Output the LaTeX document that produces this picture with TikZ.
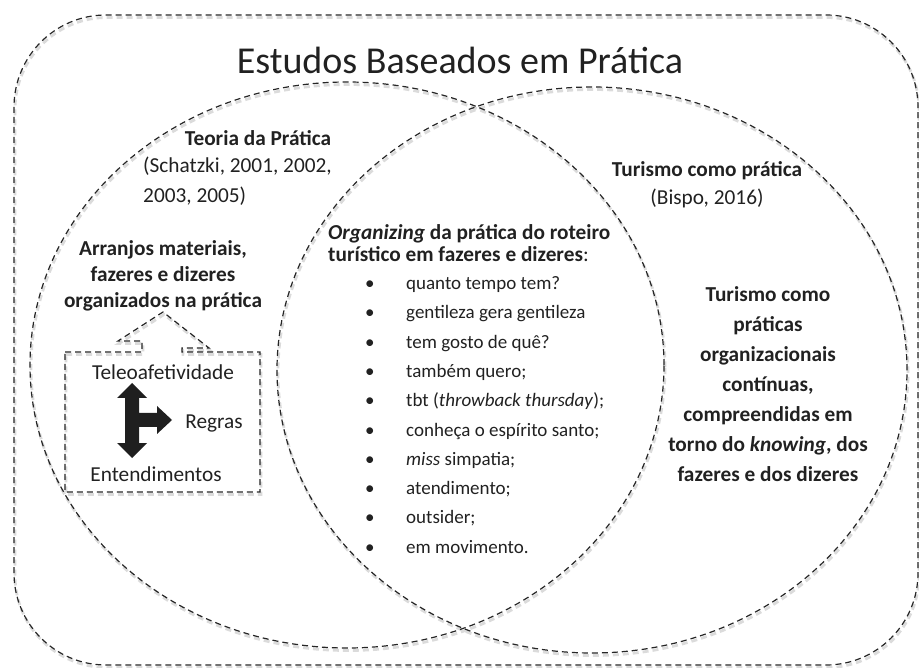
\documentclass[tikz,border=0pt]{standalone}
\usepackage{fontspec}
\setmainfont{Carlito}
\newcommand\fsz{\fontsize{21.3}{26}\selectfont}
\newcommand\fsl{\fontsize{19}{29.3}\selectfont}
\begin{document}
\begin{tikzpicture}[x=1pt,y=-1pt,
  dline/.style={draw=black!85, line width=1.2pt, dash pattern=on 6pt off 4pt},
  sline/.style={draw=black!14, line width=2.8pt, dash pattern=on 6pt off 4pt},
  txt/.style={text=black!87, inner sep=0pt, font=\fsz},
  btxt/.style={txt, font=\fsz\bfseries},
  arrowfill/.style={fill=black!88}]
\useasboundingbox (0,0) rectangle (919,668);
% soft shadows of the dashed outlines
\begin{scope}[shift={(1,2.5)}]
  \path[sline, rounded corners=92pt] (14,15) rectangle (918,665);
  \path[sline] (347,365) ellipse [x radius=317pt, y radius=283pt];
  \path[sline] (592,370) ellipse [x radius=315pt, y radius=283pt];
  \path[sline] (65,352) -- (142,352) -- (142,341) -- (118,341) -- (163,312) -- (209,348) -- (182,348) -- (182,352) -- (260,352) -- (260,492) -- (65,492) -- cycle;
\end{scope}
% dashed outlines
\path[dline, rounded corners=92pt] (14,15) rectangle (918,665);
\path[dline] (347,365) ellipse [x radius=317pt, y radius=283pt];
\path[dline] (592,370) ellipse [x radius=315pt, y radius=283pt];
\path[dline] (65,352) -- (142,352) -- (142,341) -- (118,341) -- (163,312) -- (209,348) -- (182,348) -- (182,352) -- (260,352) -- (260,492) -- (65,492) -- cycle;
% three-way arrow
\fill[arrowfill] (132,383) -- (147,398) -- (139,398) -- (139,413) -- (157,413) -- (157,406) -- (172,420) -- (157,434) -- (157,427) -- (139,427) -- (139,443) -- (147,443) -- (132,458) -- (117,443) -- (125,443) -- (125,398) -- (117,398) -- cycle;
% texts
\node[txt, font=\fontsize{38}{40}\selectfont] (title) at (460,60) {Estudos Baseados em Prática};
\node[btxt] (teoria) at (258,138) {Teoria da Prática};
\node[txt, anchor=west, align=left, font=\fontsize{21.3}{30}\selectfont] (schatzki) at (143,181) {(Schatzki, 2001, 2002,\\2003, 2005)};
\node[txt, align=center, font=\fontsize{21.3}{28}\selectfont] (bispo) at (707,185) {\textbf{Turismo como prática}\\(Bispo, 2016)};
\node[btxt, align=center] (arranjos) at (163,276) {Arranjos materiais,\\fazeres e dizeres\\organizados na prática};
\node[txt, anchor=west, align=left, font=\fontsize{21.3}{22.3}\selectfont] (org) at (328,243) {\textbf{\textit{Organizing} da prática do roteiro}\\\textbf{turístico em fazeres e dizeres}:};
\node[txt, anchor=west, align=left, font=\fsl] (lista) at (365,415) {%
\makebox[41pt][l]{\textbullet}quanto tempo tem?\\
\makebox[41pt][l]{\textbullet}gentileza gera gentileza\\
\makebox[41pt][l]{\textbullet}tem gosto de quê?\\
\makebox[41pt][l]{\textbullet}também quero;\\
\makebox[41pt][l]{\textbullet}tbt (\textit{throwback thursday});\\
\makebox[41pt][l]{\textbullet}conheça o espírito santo;\\
\makebox[41pt][l]{\textbullet}\textit{miss} simpatia;\\
\makebox[41pt][l]{\textbullet}atendimento;\\
\makebox[41pt][l]{\textbullet}outsider;\\
\makebox[41pt][l]{\textbullet}em movimento.};
\node[btxt, align=center, font=\fontsize{21.3}{30}\selectfont\bfseries] (turismo) at (768,384) {Turismo como\\práticas\\organizacionais\\contínuas,\\compreendidas em\\torno do \textit{knowing}, dos\\fazeres e dos dizeres};
\node[txt] (tele) at (163,372) {Teleoafetividade};
\node[txt] (regras) at (214,423) {Regras};
\node[txt] (entend) at (156,474) {Entendimentos};
\end{tikzpicture}
\end{document}
